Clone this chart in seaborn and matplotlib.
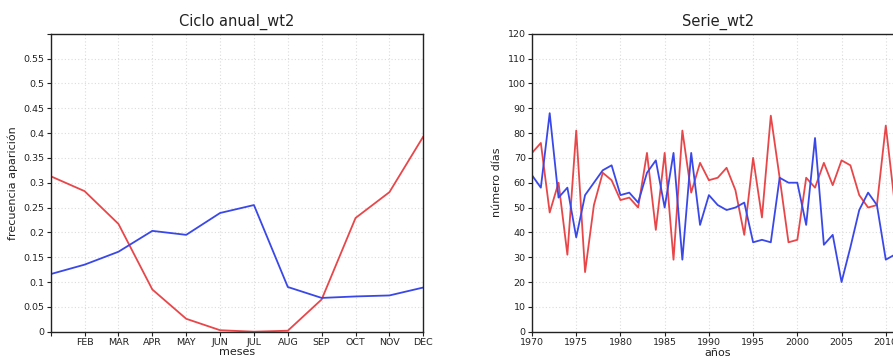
import numpy as np
import pandas as pd
import seaborn as sns
import matplotlib.pyplot as plt
from matplotlib.ticker import MultipleLocator, FuncFormatter

# annual cycle (monthly frequency of appearance)
meses = list(range(1, 13))
mes_labels = ['', 'FEB', 'MAR', 'APR', 'MAY', 'JUN', 'JUL', 'AUG', 'SEP', 'OCT', 'NOV', 'DEC']
ciclo_rojo = [0.313, 0.283, 0.217, 0.085, 0.026, 0.003, 0.0, 0.002, 0.065, 0.229, 0.281, 0.393]
ciclo_azul = [0.116, 0.135, 0.161, 0.203, 0.195, 0.239, 0.255, 0.090, 0.068, 0.071, 0.073, 0.089]

# yearly series (number of days)
anios = list(range(1970, 2012))
serie_rojo = [72, 76, 48, 60, 31, 81, 24, 51, 64, 61,
              53, 54, 50, 72, 41, 72, 29, 81, 56, 68,
              61, 62, 66, 57, 39, 70, 46, 87, 62, 36,
              37, 62, 58, 68, 59, 69, 67, 55, 50, 51,
              83, 52]
serie_azul = [63, 58, 88, 54, 58, 38, 55, 60, 65, 67,
              55, 56, 52, 64, 69, 50, 72, 29, 72, 43,
              55, 51, 49, 50, 52, 36, 37, 36, 62, 60,
              60, 43, 78, 35, 39, 20, 34, 49, 56, 51,
              29, 31]

ROJO = '#e8474a'
AZUL = '#3a48e8'

sns.set_theme(style='white')
plt.rcParams['font.family'] = ['DejaVu Sans']

fig = plt.figure(figsize=(8.93, 3.56), dpi=100)
ax1 = fig.add_axes([50.7 / 893, 24.3 / 356, 372.6 / 893, 298 / 356])
ax2 = fig.add_axes([532 / 893, 24.3 / 356, 398 / 893, 298 / 356])

grid_kw = dict(color='#dcdcdc', linestyle=(0, (1, 2)), linewidth=0.8)


def style_axes(ax):
    ax.grid(True, **grid_kw)
    for s in ax.spines.values():
        s.set_color('#222222')
        s.set_linewidth(1.0)
    ax.tick_params(direction='out', length=3, width=0.8, color='#222222',
                   labelsize=6.8, labelcolor='#222222', pad=1.5,
                   bottom=True, left=True)


# left panel: annual cycle
sns.lineplot(x=meses, y=ciclo_rojo, color=ROJO, linewidth=1.3, ax=ax1)
sns.lineplot(x=meses, y=ciclo_azul, color=AZUL, linewidth=1.3, ax=ax1)
ax1.set_xlim(1, 12)
ax1.set_ylim(0, 0.6)
ax1.set_xticks(meses)
ax1.set_xticklabels(mes_labels)
ax1.yaxis.set_major_locator(MultipleLocator(0.05))
ax1.yaxis.set_major_formatter(FuncFormatter(lambda v, p: '' if v > 0.56 else f'{v:.2f}'.rstrip('0').rstrip('.')))
style_axes(ax1)
ax1.set_title('Ciclo anual_wt2', fontsize=10.5, pad=6, color='#222222')
ax1.set_xlabel('meses', fontsize=8, labelpad=0, color='#222222')
ax1.set_ylabel('frecuencia aparición', fontsize=8, labelpad=4, color='#222222')

# right panel: yearly series (cut at the right edge, like the original)
sns.lineplot(x=anios, y=serie_rojo, color=ROJO, linewidth=1.3, ax=ax2)
sns.lineplot(x=anios, y=serie_azul, color=AZUL, linewidth=1.3, ax=ax2)
ax2.set_xlim(1970, 2015)
ax2.set_ylim(0, 120)
ax2.xaxis.set_major_locator(MultipleLocator(5))
ax2.yaxis.set_major_locator(MultipleLocator(10))
style_axes(ax2)
ax2.set_title('Serie_wt2', fontsize=10.5, pad=6, color='#222222', x=(718 - 532) / 398)
ax2.set_xlabel('años', fontsize=8, labelpad=0, color='#222222')
ax2.xaxis.set_label_coords((718 - 532) / 398, -0.055)
ax2.set_ylabel('número días', fontsize=8, labelpad=4, color='#222222')

fig.savefig('out.png', dpi=100)
